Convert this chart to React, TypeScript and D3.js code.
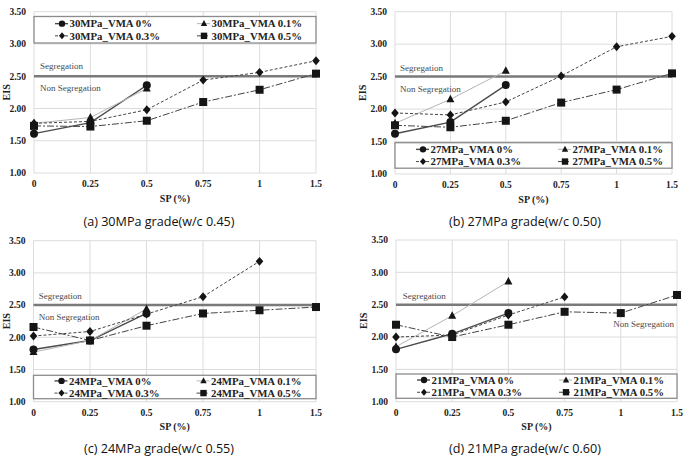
import React from 'react';
import * as d3 from 'd3';

const W = 685;
const H = 464;

const spLevels = ['0', '0.25', '0.5', '0.75', '1', '1.5'];
const eisTicks = [1, 1.5, 2, 2.5, 3, 3.5];
const vmaLabels = ['VMA 0%', 'VMA 0.1%', 'VMA 0.3%', 'VMA 0.5%'];
const segregationLimit = 2.5;

// EIS per SP level, one array per VMA dosage (null = not tested)
const eis30Vma0 = [1.61, 1.78, 2.36, null, null, null];
const eis30Vma01 = [1.77, 1.86, 2.31, null, null, null];
const eis30Vma03 = [1.77, 1.8, 1.98, 2.44, 2.56, 2.74];
const eis30Vma05 = [1.73, 1.72, 1.81, 2.1, 2.29, 2.54];

const eis27Vma0 = [1.62, 1.8, 2.37, null, null, null];
const eis27Vma01 = [1.78, 2.15, 2.59, null, null, null];
const eis27Vma03 = [1.94, 1.91, 2.11, 2.51, 2.96, 3.12];
const eis27Vma05 = [1.75, 1.72, 1.82, 2.1, 2.3, 2.55];

const eis24Vma0 = [1.81, 1.95, 2.37, null, null, null];
const eis24Vma01 = [1.77, 1.95, 2.44, null, null, null];
const eis24Vma03 = [2.02, 2.09, 2.36, 2.63, 3.18, null];
const eis24Vma05 = [2.16, 1.95, 2.18, 2.37, 2.42, 2.47];

const eis21Vma0 = [1.81, 2.05, 2.37, null, null, null];
const eis21Vma01 = [1.85, 2.33, 2.86, null, null, null];
const eis21Vma03 = [2.0, 2.03, 2.34, 2.62, null, null];
const eis21Vma05 = [2.19, 2.0, 2.19, 2.39, 2.37, 2.65];

type Series = (number | null)[];

interface PanelCfg {
  grade: string;
  caption: string;
  series: Series[];
  left: number;
  right: number;
  top: number;
  bottom: number;
  legendY: number;
  legendH: number;
  segX: number;
  segDy: number;
  nonX: number;
  nonDy: number;
  nonAnchor: 'start' | 'end';
  capX: number;
  capY: number;
}

const panels: PanelCfg[] = [
  {
    grade: '30MPa', caption: '(a) 30MPa grade(w/c 0.45)',
    series: [eis30Vma0, eis30Vma01, eis30Vma03, eis30Vma05],
    left: 34, right: 316, top: 11.7, bottom: 173,
    legendY: 16.5, legendH: 26.5,
    segX: 40, segDy: -10.5, nonX: 40, nonDy: 11.5, nonAnchor: 'start',
    capX: 159, capY: 221.5,
  },
  {
    grade: '27MPa', caption: '(b) 27MPa grade(w/c 0.50)',
    series: [eis27Vma0, eis27Vma01, eis27Vma03, eis27Vma05],
    left: 395, right: 672, top: 11.7, bottom: 174,
    legendY: 142.7, legendH: 25.5,
    segX: 400, segDy: -9, nonX: 400, nonDy: 12.5, nonAnchor: 'start',
    capX: 525, capY: 221.5,
  },
  {
    grade: '24MPa', caption: '(c) 24MPa grade(w/c 0.55)',
    series: [eis24Vma0, eis24Vma01, eis24Vma03, eis24Vma05],
    left: 33.5, right: 316, top: 240.7, bottom: 401.7,
    legendY: 375.3, legendH: 23.4,
    segX: 38.7, segDy: -9.5, nonX: 38.7, nonDy: 12, nonAnchor: 'start',
    capX: 159, capY: 449,
  },
  {
    grade: '21MPa', caption: '(d) 21MPa grade(w/c 0.60)',
    series: [eis21Vma0, eis21Vma01, eis21Vma03, eis21Vma05],
    left: 396, right: 677, top: 240, bottom: 401.7,
    legendY: 374, legendH: 24.3,
    segX: 402.7, segDy: -9, nonX: 674, nonDy: 19.5, nonAnchor: 'end',
    capX: 525, capY: 449,
  },
];

const styles = [
  { stroke: '#4a4a4a', width: 1.4, dash: undefined as string | undefined, marker: 'circle' },
  { stroke: '#b5b5b5', width: 1, dash: undefined, marker: 'triangle' },
  { stroke: '#454545', width: 1, dash: '3,2', marker: 'diamond' },
  { stroke: '#454545', width: 1, dash: '7,2,2,2', marker: 'square' },
];

const serif = '"Liberation Serif", "DejaVu Serif", serif';

function Marker({ kind, x, y, s = 1 }: { kind: string; x: number; y: number; s?: number }) {
  const fill = '#151515';
  if (kind === 'circle') return <circle cx={x} cy={y} r={4 * s} fill={fill} />;
  if (kind === 'square') return <rect x={x - 4 * s} y={y - 4 * s} width={8 * s} height={8 * s} fill={fill} />;
  if (kind === 'diamond')
    return (
      <path d={`M${x},${y - 4.4 * s}L${x + 3.8 * s},${y}L${x},${y + 4.4 * s}L${x - 3.8 * s},${y}Z`} fill={fill} />
    );
  return <path d={`M${x},${y - 4.5 * s}L${x + 4 * s},${y + 3 * s}L${x - 4 * s},${y + 3 * s}Z`} fill={fill} />;
}

function Panel({ cfg }: { cfg: PanelCfg }) {
  const x = d3.scalePoint<string>().domain(spLevels).range([cfg.left, cfg.right]);
  const y = d3.scaleLinear().domain([1, 3.5]).range([cfg.bottom, cfg.top]);
  const line = d3
    .line<number | null>()
    .defined((d) => d != null)
    .x((_, i) => x(spLevels[i]) as number)
    .y((d) => y(d as number));

  const limitY = y(segregationLimit);
  const boxW = cfg.right - cfg.left;
  const legendMid = cfg.legendY + cfg.legendH / 2;
  const rowY = [legendMid - 6.1, legendMid + 6.1];
  const colX = [cfg.left + 28, cfg.left + 170];

  return (
    <g>
      {/* grid */}
      {eisTicks.map((t) => (
        <line key={'h' + t} x1={cfg.left} x2={cfg.right} y1={y(t)} y2={y(t)} stroke="#dcdcdc" strokeWidth={1} />
      ))}
      {spLevels.map((s) => (
        <line key={'v' + s} x1={x(s)} x2={x(s)} y1={cfg.top} y2={cfg.bottom} stroke="#dcdcdc" strokeWidth={1} />
      ))}

      {/* y ticks */}
      {eisTicks.map((t) => (
        <text key={'yt' + t} x={cfg.left - 8} y={y(t)} dy="0.35em" textAnchor="end"
          fontFamily={serif} fontWeight="bold" fontSize={9.5} fill="#222">
          {d3.format('.2f')(t)}
        </text>
      ))}
      {/* x ticks */}
      {spLevels.map((s) => (
        <text key={'xt' + s} x={x(s)} y={cfg.bottom + 11} dy="0.35em" textAnchor="middle"
          fontFamily={serif} fontWeight="bold" fontSize={9.5} fill="#222">
          {s}
        </text>
      ))}

      <text x={(cfg.left + cfg.right) / 2} y={cfg.bottom + 25} dy="0.35em" textAnchor="middle"
        fontFamily={serif} fontWeight="bold" fontSize={10} fill="#222">
        SP (%)
      </text>
      <text transform={`translate(${Math.max(cfg.left - 33, 6)},${(cfg.top + cfg.bottom) / 2}) rotate(-90)`}
        dy="0.35em" textAnchor="middle" fontFamily={serif} fontWeight="bold" fontSize={10} fill="#222">
        EIS
      </text>

      {/* segregation threshold */}
      <line x1={cfg.left} x2={cfg.right} y1={limitY} y2={limitY} stroke="#7a7a7a" strokeWidth={2.5} />
      <text x={cfg.segX} y={limitY + cfg.segDy} dy="0.35em" fontFamily={serif} fontSize={9} fill="#4a4a4a">
        Segregation
      </text>
      <text x={cfg.nonX} y={limitY + cfg.nonDy} dy="0.35em" textAnchor={cfg.nonAnchor}
        fontFamily={serif} fontSize={9} fill="#4a4a4a">
        Non Segregation
      </text>

      {/* series */}
      {cfg.series.map((s, i) => (
        <path key={'l' + i} d={line(s) || ''} fill="none" stroke={styles[i].stroke}
          strokeWidth={styles[i].width} strokeDasharray={styles[i].dash} />
      ))}
      {cfg.series.map((s, i) =>
        s.map((v, j) =>
          v == null ? null : (
            <Marker key={`m${i}-${j}`} kind={styles[i].marker} x={x(spLevels[j]) as number} y={y(v)} />
          )
        )
      )}

      {/* legend */}
      <rect x={cfg.left} y={cfg.legendY} width={boxW} height={cfg.legendH} fill="#fff"
        stroke="#8c8c8c" strokeWidth={1.3} />
      {vmaLabels.map((lab, i) => {
        const cx = colX[i % 2];
        const cy = rowY[Math.floor(i / 2)];
        return (
          <g key={'lg' + i}>
            <line x1={cx - 7} x2={cx + 6} y1={cy} y2={cy} stroke={styles[i].stroke}
              strokeWidth={styles[i].width} strokeDasharray={styles[i].dash} />
            <Marker kind={styles[i].marker} x={cx} y={cy} s={0.8} />
            <text x={cx + 7.5} y={cy} dy="0.35em" fontFamily={serif} fontWeight="bold" fontSize={10.8} fill="#222">
              {`${cfg.grade}_${lab}`}
            </text>
          </g>
        );
      })}

      <text x={cfg.capX} y={cfg.capY} dy="0.35em" textAnchor="middle"
        fontFamily='"Open Sans", "Noto Sans", sans-serif' fontSize={12.6} fill="#111">
        {cfg.caption}
      </text>
    </g>
  );
}

export default function App() {
  return (
    <svg width={W} height={H} style={{ position: 'absolute', left: 0, top: 0, background: '#fff' }}>
      <rect width={W} height={H} fill="#fff" />
      {panels.map((p) => (
        <Panel key={p.grade} cfg={p} />
      ))}
    </svg>
  );
}
